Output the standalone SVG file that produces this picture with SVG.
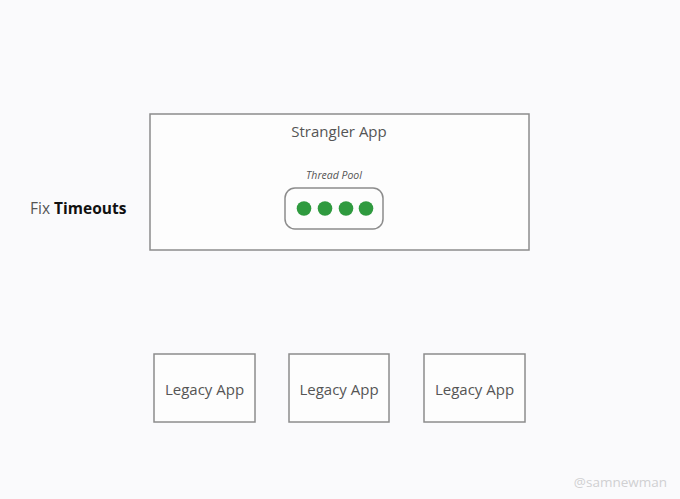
<svg xmlns="http://www.w3.org/2000/svg" width="680" height="499" viewBox="0 0 680 499">
<style>
.box{fill:#fdfdfd;stroke:#8c8c8c;stroke-width:1.5}
.lbl{font-family:"Open Sans","Liberation Sans",sans-serif;font-size:15px;fill:#555;text-anchor:middle}
.dot{fill:#2f9a3f}
</style>
<rect width="680" height="499" fill="#fafafc"/>
<g id="strangler">
<rect class="box" x="150" y="114" width="379" height="136"/>
<text class="lbl" x="339" y="137">Strangler App</text>
</g>
<g id="threadpool">
<text x="334" y="179" font-family="'Open Sans','Liberation Sans',sans-serif" font-size="10.5" font-style="italic" fill="#555" text-anchor="middle">Thread Pool</text>
<rect x="285" y="188" width="98" height="41" rx="10" fill="#fdfdfd" stroke="#8c8c8c" stroke-width="1.5"/>
<circle class="dot" cx="304" cy="208.5" r="7.3"/>
<circle class="dot" cx="325" cy="208.5" r="7.3"/>
<circle class="dot" cx="346" cy="208.5" r="7.3"/>
<circle class="dot" cx="366" cy="208.5" r="7.3"/>
</g>
<g id="fix">
<text x="30" y="214" font-family="'Open Sans','Liberation Sans',sans-serif" font-size="15.5" fill="#555">Fix <tspan font-weight="bold" fill="#111">Timeouts</tspan></text>
</g>
<g id="legacy1">
<rect class="box" x="154" y="354" width="101" height="68"/>
<text class="lbl" x="204.5" y="395">Legacy App</text>
</g>
<g id="legacy2">
<rect class="box" x="289" y="354" width="100" height="68"/>
<text class="lbl" x="339" y="395">Legacy App</text>
</g>
<g id="legacy3">
<rect class="box" x="424" y="354" width="101" height="68"/>
<text class="lbl" x="474.5" y="395">Legacy App</text>
</g>
<g id="connectors"></g>
<text x="667" y="487" font-family="'Open Sans','Liberation Sans',sans-serif" font-size="13.5" fill="#d0d0d2" text-anchor="end">@samnewman</text>
</svg>
